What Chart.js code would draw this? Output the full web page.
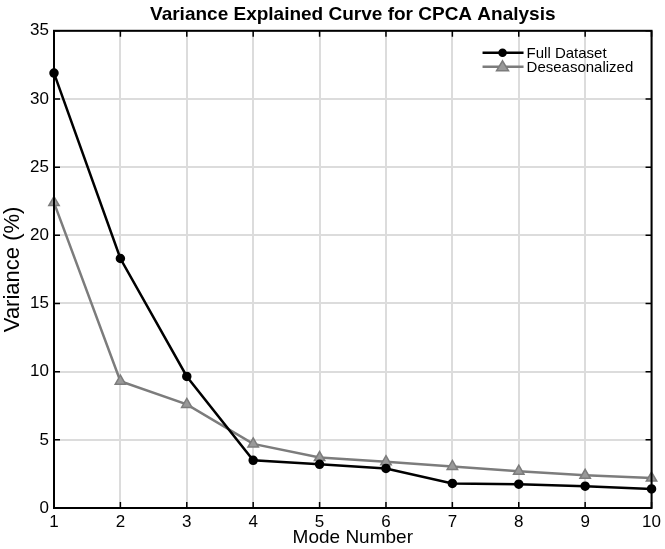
<!DOCTYPE html>
<html>
<head>
<meta charset="utf-8">
<script src="https://cdn.jsdelivr.net/npm/chart.js@4"></script>
<style>
  html, body { margin: 0; padding: 0; background: #fff; }
  #wrap { width: 665px; height: 549px; }
</style>
</head>
<body>
<div id="wrap"><canvas id="chart" width="665" height="549"></canvas></div>
<script>
const modes = [1, 2, 3, 4, 5, 6, 7, 8, 9, 10];
const fullDataset = [31.9, 18.3, 9.65, 3.5, 3.2, 2.9, 1.8, 1.75, 1.6, 1.4];
const deseasonalized = [22.4, 9.3, 7.6, 4.7, 3.7, 3.4, 3.05, 2.7, 2.4, 2.2];
const yTicks = [0, 5, 10, 15, 20, 25, 30, 35];

const FONT = '"Liberation Sans", Arial, sans-serif';

// center the title over the plot area rather than the whole canvas
const titleOverAxes = {
  id: 'titleOverAxes',
  afterLayout(chart) {
    if (chart.titleBlock) {
      chart.titleBlock.left = chart.chartArea.left;
      chart.titleBlock.right = chart.chartArea.right;
    }
  }
};

// box around the axes plus inward tick marks
const boxPlugin = {
  id: 'box',
  afterDatasetsDraw(chart) {
    const { ctx, chartArea: a, scales } = chart;
    ctx.save();
    ctx.strokeStyle = '#000';
    ctx.lineWidth = 2;
    ctx.strokeRect(a.left, a.top, a.right - a.left, a.bottom - a.top);
    ctx.lineWidth = 1.5;
    ctx.beginPath();
    scales.x.ticks.forEach(t => {
      const px = scales.x.getPixelForValue(t.value);
      ctx.moveTo(px, a.bottom); ctx.lineTo(px, a.bottom - 6);
      ctx.moveTo(px, a.top); ctx.lineTo(px, a.top + 6);
    });
    scales.y.ticks.forEach(t => {
      const py = scales.y.getPixelForValue(t.value);
      ctx.moveTo(a.left, py); ctx.lineTo(a.left + 6, py);
      ctx.moveTo(a.right, py); ctx.lineTo(a.right - 6, py);
    });
    ctx.stroke();
    ctx.restore();
  }
};

// legend in the top-right corner of the plot
const insideLegend = {
  id: 'insideLegend',
  afterDraw(chart) {
    const { ctx, chartArea: a } = chart;
    const x0 = a.right - 169, y0 = a.top + 22;
    ctx.save();
    ctx.font = '15px ' + FONT;
    ctx.textBaseline = 'middle';
    chart.data.datasets.forEach((ds, i) => {
      const y = y0 + i * 14;
      ctx.strokeStyle = ds.borderColor;
      ctx.lineWidth = 2.5;
      ctx.beginPath();
      ctx.moveTo(x0, y); ctx.lineTo(x0 + 41, y);
      ctx.stroke();
      const mx = x0 + 20;
      ctx.fillStyle = ds.pointBackgroundColor;
      ctx.strokeStyle = ds.borderColor;
      ctx.lineWidth = 1.5;
      ctx.beginPath();
      if (ds.pointStyle === 'triangle') {
        ctx.moveTo(mx, y - 6); ctx.lineTo(mx + 6, y + 4); ctx.lineTo(mx - 6, y + 4); ctx.closePath();
      } else {
        ctx.arc(mx, y, 3.5, 0, Math.PI * 2);
      }
      ctx.fill(); ctx.stroke();
      ctx.fillStyle = '#000';
      ctx.fillText(ds.label, x0 + 44, y + 1);
    });
    ctx.restore();
  }
};

new Chart(document.getElementById('chart'), {
  type: 'line',
  data: {
    datasets: [{
      label: 'Full Dataset',
      data: modes.map((m, i) => ({ x: m, y: fullDataset[i] })),
      borderColor: '#000',
      backgroundColor: '#000',
      pointBackgroundColor: '#000',
      pointStyle: 'circle',
      pointRadius: 3.5,
      borderWidth: 2.5,
      clip: false,
      tension: 0
    }, {
      label: 'Deseasonalized',
      data: modes.map((m, i) => ({ x: m, y: deseasonalized[i] })),
      borderColor: '#7c7c7c',
      backgroundColor: '#999999',
      pointBackgroundColor: '#999999',
      pointStyle: 'triangle',
      pointRadius: 6,
      pointBorderWidth: 1.5,
      borderWidth: 2.5,
      clip: false,
      tension: 0
    }]
  },
  options: {
    responsive: false,
    animation: false,
    layout: { padding: { top: 0, right: 8, left: 0, bottom: 0 } },
    plugins: {
      legend: { display: false },
      tooltip: { enabled: false },
      title: {
        display: true,
        text: 'Variance Explained Curve for CPCA Analysis',
        color: '#000',
        font: { family: FONT, size: 19, weight: 'bold' },
        padding: { top: 3, bottom: 5 }
      }
    },
    scales: {
      x: {
        type: 'linear',
        min: 1,
        max: 10,
        afterFit(scale) { scale.height = 41; },
        ticks: { stepSize: 1, color: '#000', font: { family: FONT, size: 17 }, padding: 4 },
        grid: { color: '#dcdcdc', lineWidth: 2, drawTicks: false },
        border: { display: false },
        title: { display: true, text: 'Mode Number', color: '#000', font: { family: FONT, size: 19 }, padding: { top: 0, bottom: 0 } }
      },
      y: {
        min: 0,
        max: 35,
        afterBuildTicks(scale) { scale.ticks = yTicks.map(v => ({ value: v })); },
        afterFit(scale) { scale.width = 54; },
        ticks: { color: '#000', font: { family: FONT, size: 17 }, padding: 5 },
        grid: { color: '#dcdcdc', lineWidth: 2, drawTicks: false },
        border: { display: false },
        title: { display: true, text: 'Variance (%)', color: '#000', font: { family: FONT, size: 22 }, padding: { top: 0, bottom: 0 } }
      }
    }
  },
  plugins: [titleOverAxes, boxPlugin, insideLegend]
});
</script>
</body>
</html>
